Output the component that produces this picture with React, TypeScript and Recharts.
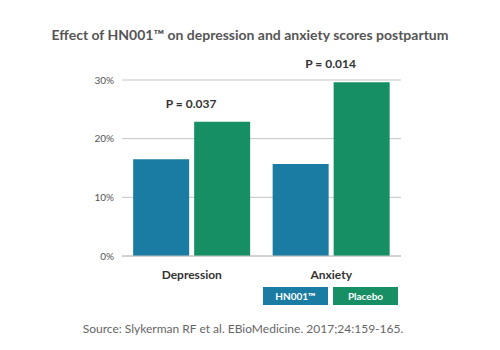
import React from 'react';
import {
  BarChart,
  Bar,
  XAxis,
  YAxis,
  CartesianGrid,
  Legend,
  LabelList,
} from 'recharts';

const categories = ['Depression', 'Anxiety'];
const hn001Values = [16.5, 15.7];
const placeboValues = [22.9, 29.6];
const pValues = ['P = 0.037', 'P = 0.014'];
const yTicks = [0, 10, 20, 30];

const seriesNames = ['HN001™', 'Placebo'];
const BLUE = '#1a7ca3';
const GREEN = '#168f65';
const FONT = 'Lato, "Open Sans", sans-serif';

const data = categories.map((name, i) => ({
  name,
  hn001: hn001Values[i],
  placebo: placeboValues[i],
  p: pValues[i],
}));

function PLabel(props: any) {
  const { x, y, value } = props;
  // centred over the pair: placebo bar starts right after the gap
  return (
    <text
      x={x - 3}
      y={y - 14}
      textAnchor="middle"
      fontSize={12}
      fontWeight={700}
      fill="#333"
      fontFamily={FONT}
    >
      {value}
    </text>
  );
}

function LegendBoxes({ payload }: any) {
  return (
    <div style={{ display: 'flex', gap: 5 }}>
      {(payload || []).map((item: any) => (
        <div
          key={item.value}
          style={{
            width: 65,
            height: 18,
            background: item.color,
            color: '#fff',
            fontSize: 10,
            fontWeight: 700,
            fontFamily: FONT,
            lineHeight: '18px',
            textAlign: 'center',
          }}
        >
          {item.value}
        </div>
      ))}
    </div>
  );
}

export default function App() {
  return (
    <div style={{ position: 'absolute', left: 0, top: 0, width: 500, height: 350, background: '#fff', fontFamily: FONT }}>
      <div
        style={{
          position: 'absolute',
          top: 26,
          left: 0,
          width: 500,
          textAlign: 'center',
          fontSize: 14,
          fontWeight: 700,
          color: '#555',
        }}
      >
        Effect of HN001™ on depression and anxiety scores postpartum
      </div>
      <BarChart
        width={500}
        height={350}
        data={data}
        margin={{ top: 80, right: 99, bottom: 64, left: 0 }}
        barCategoryGap="8%"
        barGap={5}
      >
        <CartesianGrid vertical={false} stroke="#c4c4c4" />
        <XAxis
          dataKey="name"
          height={30}
          tickLine={false}
          axisLine={{ stroke: '#c4c4c4' }}
          tick={{ fontSize: 12, fontWeight: 700, fill: '#333', fontFamily: FONT }}
          dy={6}
        />
        <YAxis
          width={122}
          domain={[0, 30]}
          ticks={yTicks}
          tickFormatter={(v) => `${v}%`}
          tickLine={false}
          axisLine={false}
          tick={{ fontSize: 10, fill: '#555', fontFamily: FONT }}
        />
        <Legend
          verticalAlign="middle"
          align="center"
          layout="horizontal"
          wrapperStyle={{ position: 'absolute', top: 287, left: 263, width: 140 }}
          content={<LegendBoxes />}
        />
        <Bar dataKey="hn001" name={seriesNames[0]} fill={BLUE} isAnimationActive={false} />
        <Bar dataKey="placebo" name={seriesNames[1]} fill={GREEN} isAnimationActive={false}>
          <LabelList dataKey="p" content={<PLabel />} />
        </Bar>
      </BarChart>
      <div
        style={{
          position: 'absolute',
          top: 321,
          left: 0,
          width: 486,
          textAlign: 'center',
          fontSize: 12,
          color: '#666',
        }}
      >
        Source: Slykerman RF et al. EBioMedicine. 2017;24:159-165.
      </div>
    </div>
  );
}
